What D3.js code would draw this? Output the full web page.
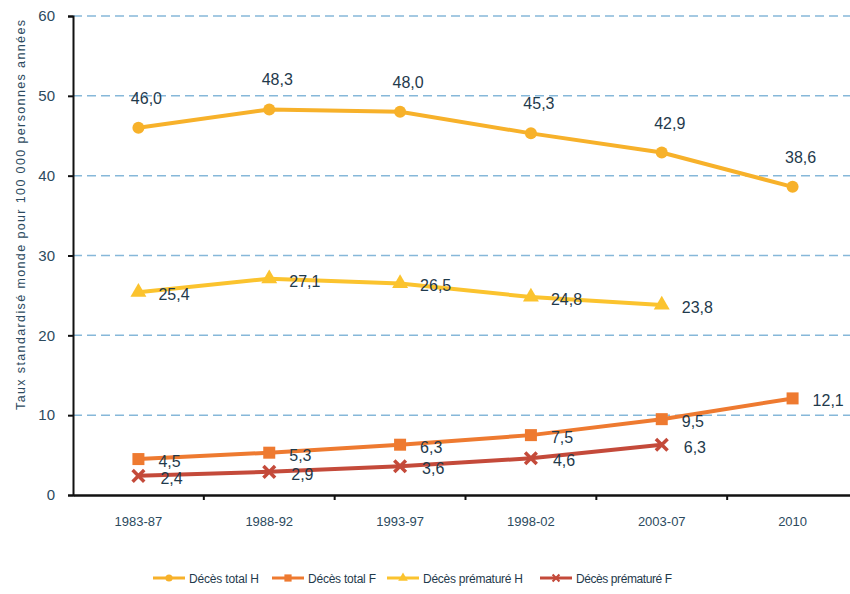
<!DOCTYPE html>
<html>
<head>
<meta charset="utf-8">
<script src="https://cdn.jsdelivr.net/npm/d3@7"></script>
<style>
  body { margin: 0; background: #fff; }
  svg { font-family: "Liberation Sans", Arial, sans-serif; }
</style>
</head>
<body>
<div class="chart"></div>
<script>
const periods = ["1983-87", "1988-92", "1993-97", "1998-02", "2003-07", "2010"];
const totalH = [46.0, 48.3, 48.0, 45.3, 42.9, 38.6];
const totalF = [4.5, 5.3, 6.3, 7.5, 9.5, 12.1];
const prematH = [25.4, 27.1, 26.5, 24.8, 23.8, null];
const prematF = [2.4, 2.9, 3.6, 4.6, 6.3, null];
const yTicks = [0, 10, 20, 30, 40, 50, 60];

const width = 850, height = 594;
const fmt = v => d3.format(".1f")(v).replace(".", ",");

const x = d3.scaleBand().domain(periods).range([73, 858]);
const y = d3.scaleLinear().domain([0, 60]).range([495, 16]);

const svg = d3.select(".chart").append("svg")
    .attr("width", width)
    .attr("height", height);

// gridlines
svg.append("g")
    .selectAll("line")
    .data(yTicks.filter(d => d > 0))
    .join("line")
    .attr("x1", 73).attr("x2", width)
    .attr("y1", d => y(d)).attr("y2", d => y(d))
    .attr("stroke", "#86b8d9")
    .attr("stroke-width", 1.5)
    .attr("stroke-dasharray", "9,5");

// y axis
const yAxis = svg.append("g")
    .attr("transform", "translate(73,0)")
    .call(d3.axisLeft(y).tickValues(yTicks).tickSize(5).tickPadding(13));
yAxis.select(".domain").attr("stroke", "#111").attr("stroke-width", 2);
yAxis.selectAll(".tick line").attr("stroke", "#111").attr("stroke-width", 2);
yAxis.selectAll("text").attr("font-size", 15).attr("fill", "#2c4a5e");

// x axis
const xAxis = svg.append("g")
    .attr("transform", "translate(0,495)")
    .call(d3.axisBottom(x).tickSize(0).tickPadding(22));
xAxis.select(".domain").attr("stroke", "#111").attr("stroke-width", 2.5);
xAxis.selectAll("text").attr("font-size", 13).attr("fill", "#2c4a5e");
xAxis.selectAll(".sep")
    .data(periods.slice(1))
    .join("line")
    .attr("class", "sep")
    .attr("x1", d => x(d)).attr("x2", d => x(d))
    .attr("y1", 0).attr("y2", 5)
    .attr("stroke", "#111").attr("stroke-width", 2);

// axis title
svg.append("text")
    .attr("transform", "translate(25,215) rotate(-90)")
    .attr("text-anchor", "middle")
    .attr("font-size", 12.5)
    .attr("fill", "#2c4a5e")
    .attr("textLength", 390)
    .text("Taux standardisé monde pour 100 000 personnes années");

const series = [
  { name: "Décès total H", values: totalH, color: "#f7b12a", marker: "circle", dx: 8, dy: -24, anchor: "middle" },
  { name: "Décès total F", values: totalF, color: "#ee7a30", marker: "square", dx: 20, dy: 8, anchor: "start" },
  { name: "Décès prématuré H", values: prematH, color: "#fbc32e", marker: "triangle", dx: 20, dy: 8, anchor: "start" },
  { name: "Décès prématuré F", values: prematF, color: "#c44a3a", marker: "cross", dx: 22, dy: 8, anchor: "start" }
];

const cx = d => x(d) + x.bandwidth() / 2;

function drawMarker(g, type, color, px, py, k = 1) {
  if (type === "circle") {
    g.append("circle").attr("cx", px).attr("cy", py).attr("r", 6 * k).attr("fill", color);
  } else if (type === "square") {
    g.append("rect").attr("x", px - 6 * k).attr("y", py - 6 * k).attr("width", 12 * k).attr("height", 12 * k).attr("fill", color);
  } else if (type === "triangle") {
    g.append("path").attr("d", d3.symbol(d3.symbolTriangle, 110 * k * k)()).attr("transform", `translate(${px},${py})`).attr("fill", color);
  } else {
    g.append("path").attr("d", d3.symbol(d3.symbolX, 90 * k * k)()).attr("transform", `translate(${px},${py})`)
      .attr("stroke", color).attr("stroke-width", 3.5 * k).attr("fill", "none");
  }
}

series.forEach(s => {
  const pts = periods.map((p, i) => ({ p, v: s.values[i] })).filter(d => d.v !== null);
  const g = svg.append("g");
  g.append("path")
    .datum(pts)
    .attr("fill", "none")
    .attr("stroke", s.color)
    .attr("stroke-width", 4)
    .attr("d", d3.line().x(d => cx(d.p)).y(d => y(d.v)));
  pts.forEach(d => drawMarker(g, s.marker, s.color, cx(d.p), y(d.v)));
  g.selectAll("text")
    .data(pts)
    .join("text")
    .attr("x", d => cx(d.p) + s.dx)
    .attr("y", d => y(d.v) + s.dy)
    .attr("text-anchor", s.anchor)
    .attr("font-size", 16)
    .attr("fill", "#1f3a4c")
    .text(d => fmt(d.v));
});

// legend
const legendX = [153, 272, 387, 540];
const legendW = [70, 68, 100, 96];
const legend = svg.append("g").attr("transform", "translate(0,578)");
series.forEach((s, i) => {
  const lg = legend.append("g").attr("transform", `translate(${legendX[i]},0)`);
  lg.append("line").attr("x1", 0).attr("x2", 32).attr("y1", 0).attr("y2", 0)
    .attr("stroke", s.color).attr("stroke-width", 3);
  drawMarker(lg, s.marker, s.color, 16, 0, 0.6);
  lg.append("text").attr("x", 36).attr("y", 4.5)
    .attr("font-size", 12).attr("fill", "#1f3a4c")
    .attr("textLength", legendW[i])
    .text(s.name);
});
</script>
</body>
</html>
